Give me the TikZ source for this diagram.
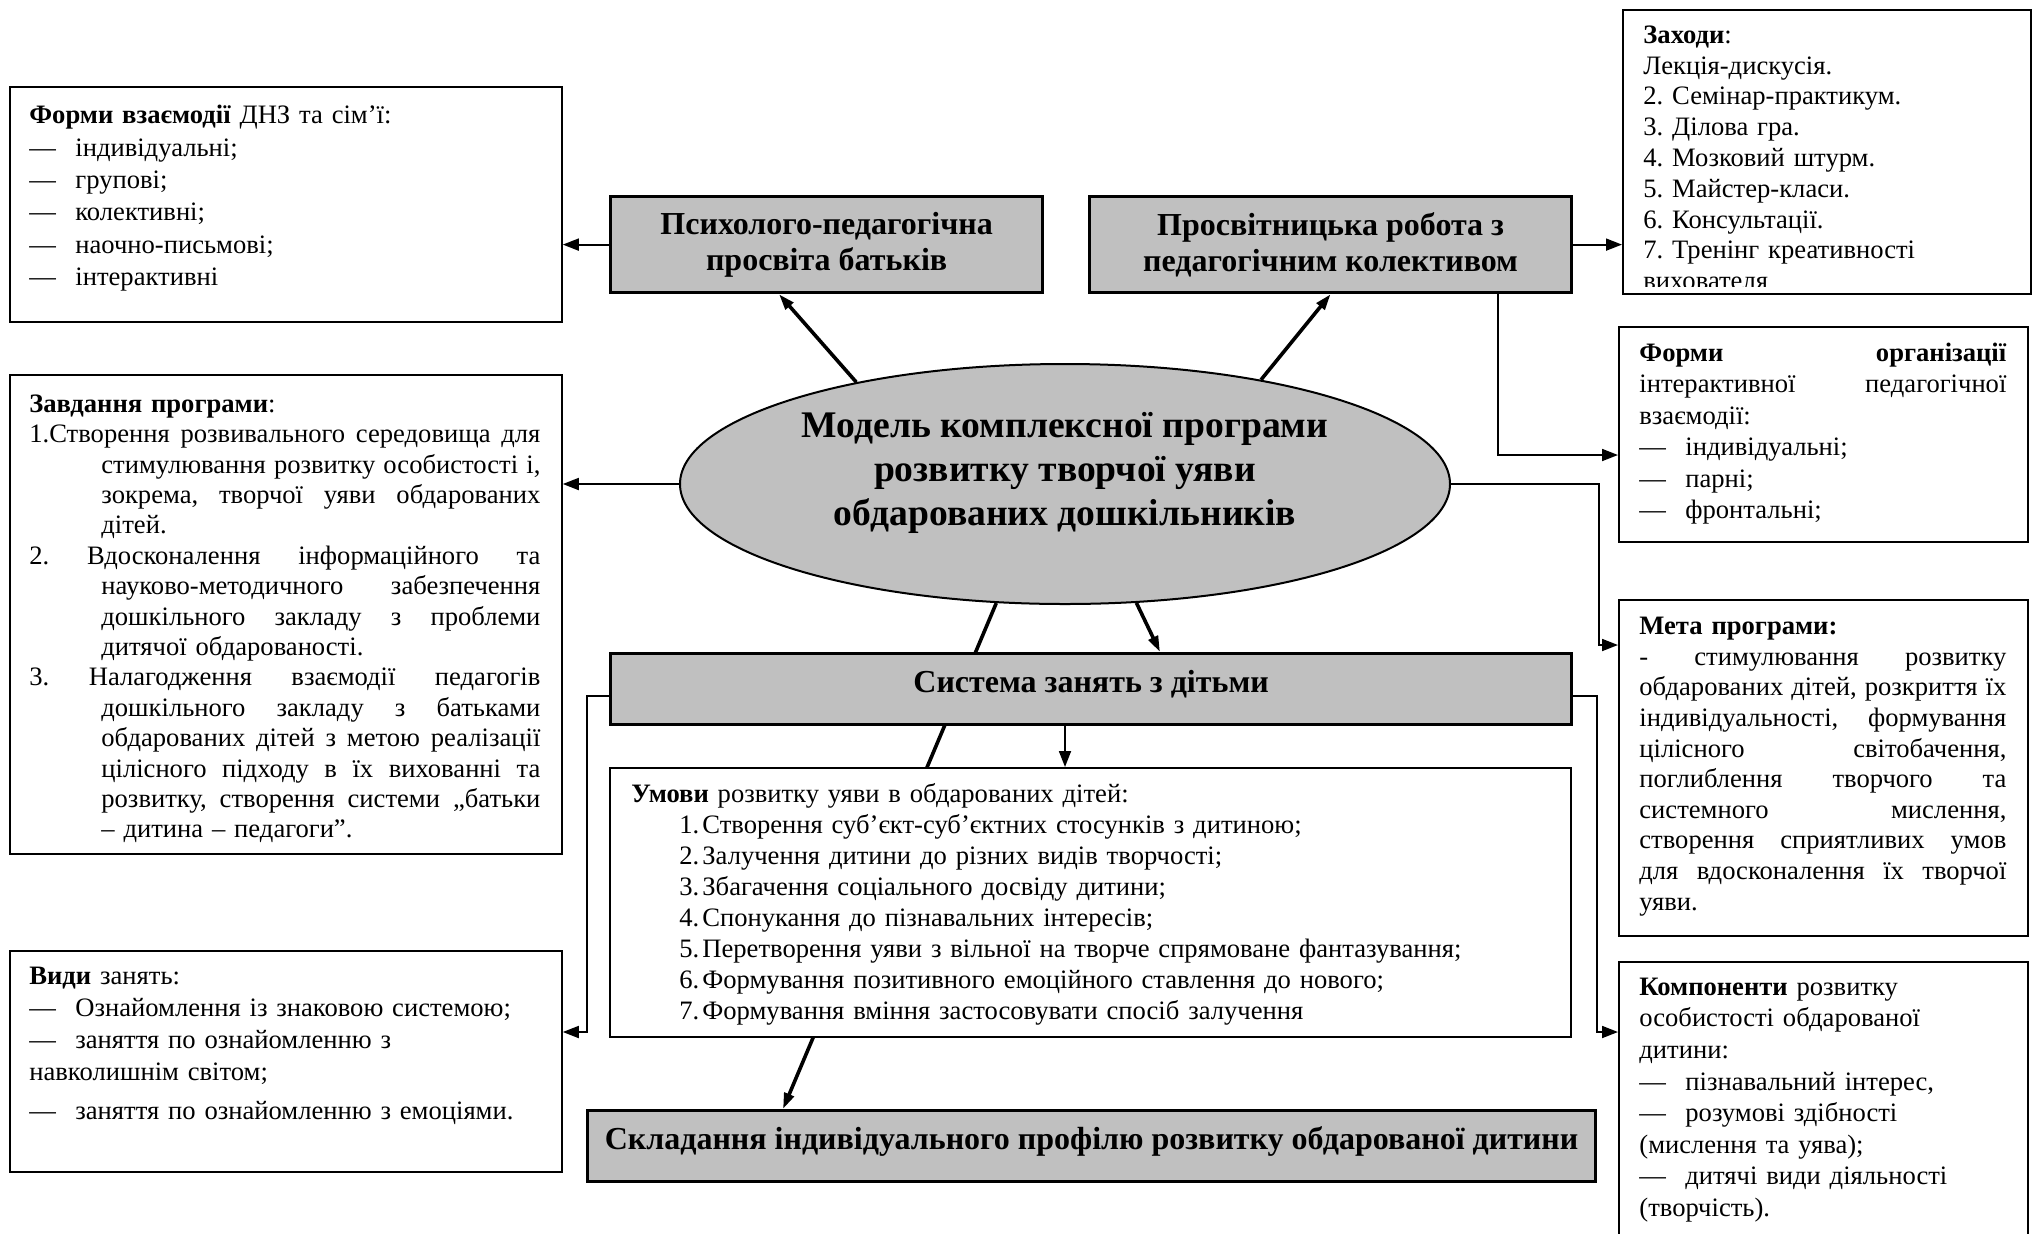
\documentclass[tikz,border=0pt]{standalone}
\usepackage{fontspec}
\setmainfont{Liberation Serif}
\usetikzlibrary{positioning,arrows.meta,shapes.geometric}
\definecolor{boxgray}{HTML}{C0C0C0}
\setlength{\parindent}{0pt}
\frenchspacing
\newcommand{\dashln}{\makebox[23pt][l]{—}}
\newcommand{\numln}[1]{\hspace*{24pt}\makebox[11.5pt][l]{#1}}
\newcommand{\jline}[2]{\makebox[#1][s]{\spaceskip=0pt\xspaceskip=0pt #2}}
\newcommand{\hjline}[1]{\hspace*{36pt}\jline{219.5pt}{#1}}

\begin{document}
\begin{tikzpicture}[x=0.5pt,y=-0.5pt,
  frame/.style={draw,line width=0.9pt,anchor=north west,inner sep=0pt},
  greybox/.style={draw,line width=1.6pt,fill=boxgray,anchor=north west,inner sep=0pt,
    align=center,font=\fontsize{16}{18.2}\selectfont\bfseries},
  txt/.style={inner sep=0pt,align=left,font=\fontsize{13.3}{15.5}\selectfont},
  link/.style={line width=0.9pt,-{Triangle[length=8pt,width=6pt]}},
  thicklink/.style={line width=1.8pt,-{Triangle[length=8pt,width=5pt]}}]
\path[use as bounding box,fill=white] (0,0) rectangle (2036,1233);

\node[frame,minimum width=276pt,minimum height=117.5pt] (forms) at (9,86) {};
\node[txt,text width=262pt,font=\fontsize{13.3}{16.2}\selectfont,below right=7.3pt and 10pt of forms.north west] (formst) {\strut\textbf{Форми взаємодії} ДНЗ та сім’ї:\\
  \dashln індивідуальні;\\
  \dashln групові;\\
  \dashln колективні;\\
  \dashln наочно-письмові;\\
  \dashln інтерактивні};

\node[frame,minimum width=276pt,minimum height=239.5pt] (tasks) at (9,374) {};
\node[txt,text width=255.5pt,font=\fontsize{13.3}{15.2}\selectfont,below right=8.3pt and 10pt of tasks.north west] (taskst) {\strut\textbf{Завдання програми}:\\
  \jline{255.5pt}{1.Створення розвивального середовища для}\\
  \hjline{стимулювання розвитку особистості і,}\\
  \hjline{зокрема, творчої уяви обдарованих}\\
  \hspace*{36pt}дітей.\\
  \jline{255.5pt}{2. Вдосконалення інформаційного та}\\
  \hjline{науково-методичного забезпечення}\\
  \hjline{дошкільного закладу з проблеми}\\
  \hspace*{36pt}дитячої обдарованості.\\
  \jline{255.5pt}{3. Налагодження взаємодії педагогів}\\
  \hjline{дошкільного закладу з батьками}\\
  \hjline{обдарованих дітей з метою реалізації}\\
  \hjline{цілісного підходу в їх вихованні та}\\
  \hjline{розвитку, створення системи „батьки}\\
  \hspace*{36pt}– дитина – педагоги”.};

\node[frame,minimum width=276pt,minimum height=110.5pt] (kinds) at (9,950) {};
\node[txt,text width=262pt,font=\fontsize{13.3}{15.9}\selectfont,below right=6.1pt and 10pt of kinds.north west] (kindst) {\strut\textbf{Види} занять:\\
  \dashln Ознайомлення із знаковою системою;\\
  \dashln заняття по ознайомленню з\\
  навколишнім світом;\\[3.5pt]
  \dashln заняття по ознайомленню з емоціями.};

\node[greybox,minimum width=216pt,minimum height=48pt] (parents) at (609,195) {Психолого-педагогічна\\просвіта батьків};
\node[greybox,minimum width=241pt,minimum height=48pt] (staff) at (1088,195) {Просвітницька робота з\\педагогічним колективом};

\node[frame,minimum width=204pt,minimum height=142pt] (events) at (1622,9) {};
\begin{scope}
  \clip (events.north west) rectangle ([yshift=4pt]events.south east);
  \node[txt,text width=190pt,font=\fontsize{13.3}{15.4}\selectfont,below right=6.2pt and 10.5pt of events.north west] (eventst) {\strut\textbf{Заходи}:\\
    Лекція-дискусія.\\
    2. Семінар-практикум.\\
    3. Ділова гра.\\
    4. Мозковий штурм.\\
    5. Майстер-класи.\\
    6. Консультації.\\
    7. Тренінг креативності\\
    вихователя};
\end{scope}

\node[frame,minimum width=204.5pt,minimum height=107.5pt] (orgforms) at (1618,326) {};
\node[txt,text width=183.5pt,font=\fontsize{13.3}{15.7}\selectfont,below right=6.6pt and 10.5pt of orgforms.north west] (orgformst) {\strut\jline{183.5pt}{\textbf{Форми організації}}\\
  \jline{183.5pt}{інтерактивної педагогічної}\\
  взаємодії:\\
  \dashln індивідуальні;\\
  \dashln парні;\\
  \dashln фронтальні;};

\node[frame,minimum width=204.5pt,minimum height=168pt] (goal) at (1618,599) {};
\node[txt,text width=183.5pt,font=\fontsize{13.3}{15.3}\selectfont,below right=6.9pt and 10.5pt of goal.north west] (goalt) {\strut\textbf{Мета програми:}\\
  \jline{183.5pt}{- стимулювання розвитку}\\
  \jline{183.5pt}{обдарованих дітей, розкриття їх}\\
  \jline{183.5pt}{індивідуальності, формування}\\
  \jline{183.5pt}{цілісного світобачення,}\\
  \jline{183.5pt}{поглиблення творчого та}\\
  \jline{183.5pt}{системного мислення,}\\
  \jline{183.5pt}{створення сприятливих умов}\\
  \jline{183.5pt}{для вдосконалення їх творчої}\\
  уяви.};

\node[frame,minimum width=204.5pt,minimum height=150pt] (comps) at (1618,961) {};
\node[txt,text width=190pt,font=\fontsize{13.3}{15.8}\selectfont,below right=5.9pt and 10.5pt of comps.north west] (compst) {\strut\textbf{Компоненти} розвитку\\
  особистості обдарованої\\
  дитини:\\
  \dashln пізнавальний інтерес,\\
  \dashln розумові здібності\\
  (мислення та уява);\\
  \dashln дитячі види діяльності\\
  (творчість).};

\node[draw,ellipse,fill=boxgray,line width=1pt,minimum width=385pt,minimum height=120pt,inner sep=0pt] (model) at (1065,484) {};
\node[align=center,font=\fontsize{18.8}{22}\selectfont\bfseries] (modelt) at ([yshift=5.5pt]model.center) {Модель комплексної програми\\розвитку творчої уяви\\обдарованих дошкільників};

\node[greybox,minimum width=504pt,minimum height=35.5pt,text height=11pt,text depth=8pt] (profile) at (586,1109) {Складання індивідуального профілю розвитку обдарованої дитини};
\draw[thicklink] (model.240) -- ([xshift=98.5pt]profile.north west);

\node[greybox,minimum width=480.5pt,minimum height=35.5pt,text height=11pt,text depth=8pt] (system) at (609,652) {Система занять з дітьми};
\node[frame,fill=white,minimum width=480.5pt,minimum height=134.5pt] (conds) at (609,767) {};
\node[txt,text width=460pt,below right=6.55pt and 11pt of conds.north west] (condst) {\strut\textbf{Умови} розвитку уяви в обдарованих дітей:\\
  \numln{1.}Створення суб’єкт-суб’єктних стосунків з дитиною;\\
  \numln{2.}Залучення дитини до різних видів творчості;\\
  \numln{3.}Збагачення соціального досвіду дитини;\\
  \numln{4.}Спонукання до пізнавальних інтересів;\\
  \numln{5.}Перетворення уяви з вільної на творче спрямоване фантазування;\\
  \numln{6.}Формування позитивного емоційного ставлення до нового;\\
  \numln{7.}Формування вміння застосовувати спосіб залучення};

\draw[thicklink] (model.154) -- ([xshift=85pt]parents.south west);
\draw[thicklink] (model.28) -- (staff.south);
\draw[thicklink] (model.-59) -- ([xshift=275.5pt]system.north west);
\draw[link] (parents.west) -- (parents.west -| forms.east);
\draw[link] (staff.east) -- (staff.east -| events.west);
\draw[link] ([xshift=205pt]staff.south west) |- ([yshift=-64.5pt]orgforms.north west);
\draw[link] (model.west) -- (model.west -| tasks.east);
\draw[link] (model.east) -- ++(148,0) |- ([yshift=-23pt]goal.north west);
\draw[link] (system.south -| model.center) -- (conds.north -| model.center);
\draw[link] ([yshift=-3.5pt]system.west) -- ++(-22,0) |- ([yshift=-41pt]kinds.north east);
\draw[link] ([yshift=-3.5pt]system.east) -- ++(24,0) |- ([yshift=-35.5pt]comps.north west);
\end{tikzpicture}
\end{document}
